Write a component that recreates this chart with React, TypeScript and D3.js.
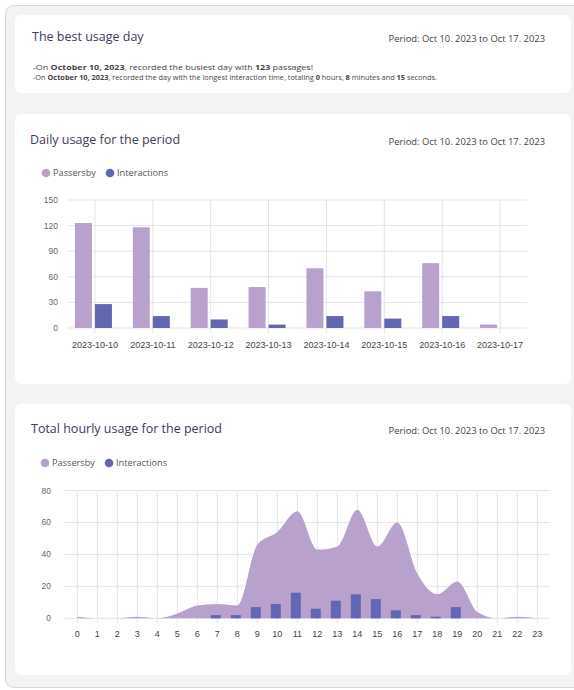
import React from "react";
import * as d3 from "d3";

const periodLabel = "Period: Oct 10. 2023 to Oct 17. 2023";
const dailyDates = ["2023-10-10", "2023-10-11", "2023-10-12", "2023-10-13", "2023-10-14", "2023-10-15", "2023-10-16", "2023-10-17"];
const dailyPassersby = [123, 118, 47, 48, 70, 43, 76, 4];
const dailyInteractions = [28, 14, 10, 4, 14, 11, 14, 0];
const dailyTicks = [0, 30, 60, 90, 120, 150];

const hours = d3.range(0, 24).map(String);
const hourlyPassersby = [1, 0, 0, 1, 0, 3, 8, 9, 8, 46, 54, 67, 43, 45, 68, 45, 60, 28, 15, 23, 4, 0, 1, 0];
const hourlyInteractions = [0, 0, 0, 0, 0, 0, 0, 2, 2, 7, 9, 16, 6, 11, 15, 12, 5, 2, 1, 7, 0, 0, 0, 0];
const hourlyTicks = [0, 20, 40, 60, 80];

const C_PASS = "#b8a2cd";
const C_INT = "#6366b2";
const GRID = "#e4e4e8";
const TITLE_FONT = "'Open Sans', 'Noto Sans', sans-serif";
const AXIS_FONT = "'Liberation Sans', Arial, sans-serif";

function Card({ x, y, w, h }: { x: number; y: number; w: number; h: number }) {
  return <rect x={x} y={y} width={w} height={h} rx={6} fill="#ffffff" />;
}

function Header({ y, title, x }: { y: number; title: string; x: number }) {
  return (
    <g>
      <text x={x} y={y} fontFamily={TITLE_FONT} fontSize={12.5} fill="#3d3b57">{title}</text>
      <text x={545} y={y + 1} textAnchor="end" fontFamily={TITLE_FONT} fontSize={9.4} fill="#444">{periodLabel}</text>
    </g>
  );
}

function Legend({ x, y }: { x: number; y: number }) {
  return (
    <g fontFamily={TITLE_FONT} fontSize={9.2} fill="#555">
      <circle cx={x} cy={y} r={4.3} fill={C_PASS} />
      <text x={x + 7} y={y + 3.3}>Passersby</text>
      <circle cx={x + 64} cy={y} r={4.3} fill={C_INT} />
      <text x={x + 71} y={y + 3.3}>Interactions</text>
    </g>
  );
}

function DailyChart() {
  const x = d3.scaleBand().domain(dailyDates).range([66, 529]);
  const y = d3.scaleLinear().domain([0, 150]).range([328, 200]);
  const bw = 17;
  return (
    <g>
      {dailyTicks.map((t) => (
        <g key={t}>
          <line x1={68} x2={527} y1={y(t)} y2={y(t)} stroke={GRID} strokeWidth={1} />
          <text x={58} y={y(t) + 3} textAnchor="end" fontFamily={AXIS_FONT} fontSize={8.5} fill="#666">{t}</text>
        </g>
      ))}
      {dailyDates.map((d) => {
        const cx = x(d)! + x.bandwidth() / 2;
        return (
          <g key={d}>
            <line x1={cx} x2={cx} y1={200} y2={333} stroke={GRID} strokeWidth={1} />
            <text x={cx} y={348} textAnchor="middle" fontFamily={AXIS_FONT} fontSize={9} fill="#444">{d}</text>
          </g>
        );
      })}
      {dailyDates.map((d, i) => {
        const cx = x(d)! + x.bandwidth() / 2;
        return (
          <g key={"b" + d}>
            <rect x={cx - 3 - bw} y={y(dailyPassersby[i])} width={bw} height={y(0) - y(dailyPassersby[i])} fill={C_PASS} />
            {dailyInteractions[i] > 0 && (
              <rect x={cx} y={y(dailyInteractions[i])} width={bw} height={y(0) - y(dailyInteractions[i])} fill={C_INT} />
            )}
          </g>
        );
      })}
    </g>
  );
}

function HourlyChart() {
  const x = d3.scaleBand().domain(hours).range([67.3, 547.3]);
  const y = d3.scaleLinear().domain([0, 80]).range([618.3, 490.5]);
  const cx = (h: string) => x(h)! + x.bandwidth() / 2;
  const area = d3
    .area<number>()
    .x((_, i) => cx(hours[i]))
    .y0(y(0))
    .y1((d) => y(d))
    .curve(d3.curveMonotoneX);
  return (
    <g>
      {hourlyTicks.map((t) => (
        <g key={t}>
          <line x1={63} x2={550} y1={y(t)} y2={y(t)} stroke={GRID} strokeWidth={1} />
          <text x={51} y={y(t) + 3} textAnchor="end" fontFamily={AXIS_FONT} fontSize={8.5} fill="#666">{t}</text>
        </g>
      ))}
      {hours.map((h) => (
        <g key={h}>
          <line x1={cx(h)} x2={cx(h)} y1={490.5} y2={623} stroke={GRID} strokeWidth={1} />
          <text x={cx(h)} y={637} textAnchor="middle" fontFamily={AXIS_FONT} fontSize={9} fill="#444">{h}</text>
        </g>
      ))}
      <path d={area(hourlyPassersby) || ""} fill={C_PASS} />
      {hours.map((h, i) =>
        hourlyInteractions[i] > 0 ? (
          <rect key={"b" + h} x={cx(h) - 6.5} y={y(hourlyInteractions[i])} width={10} height={y(0) - y(hourlyInteractions[i])} fill={C_INT} />
        ) : null
      )}
    </g>
  );
}

export default function App() {
  return (
    <svg width={574} height={690} style={{ position: "absolute", left: 0, top: 0, display: "block" }}>
      <rect x={0} y={0} width={574} height={690} fill="#ffffff" />
      <rect x={5.5} y={5.5} width={600} height={682} rx={8} fill="#f3f3f2" stroke="#d8d8d8" strokeWidth={1} />
      <Card x={15} y={15} w={556} h={78} />
      <Card x={15} y={114} w={556} h={270} />
      <Card x={15} y={404} w={556} h={271} />

      <Header x={32} y={41} title="The best usage day" />
      <g fontFamily={TITLE_FONT} fontSize={7} fill="#444">
        <text x={33} y={70} textLength={280} lengthAdjust="spacingAndGlyphs">
          -On <tspan fontWeight="bold">October 10, 2023</tspan>, recorded the busiest day with <tspan fontWeight="bold">123</tspan> passages!
        </text>
        <text x={33} y={80} textLength={404} lengthAdjust="spacingAndGlyphs">
          -On <tspan fontWeight="bold">October 10, 2023</tspan>, recorded the day with the longest interaction time, totaling <tspan fontWeight="bold">0</tspan> hours, <tspan fontWeight="bold">8</tspan> minutes and <tspan fontWeight="bold">15</tspan> seconds.
        </text>
      </g>

      <Header x={30} y={144} title="Daily usage for the period" />
      <Legend x={46} y={173} />
      <DailyChart />

      <Header x={31} y={433} title="Total hourly usage for the period" />
      <Legend x={45} y={463} />
      <HourlyChart />
    </svg>
  );
}
